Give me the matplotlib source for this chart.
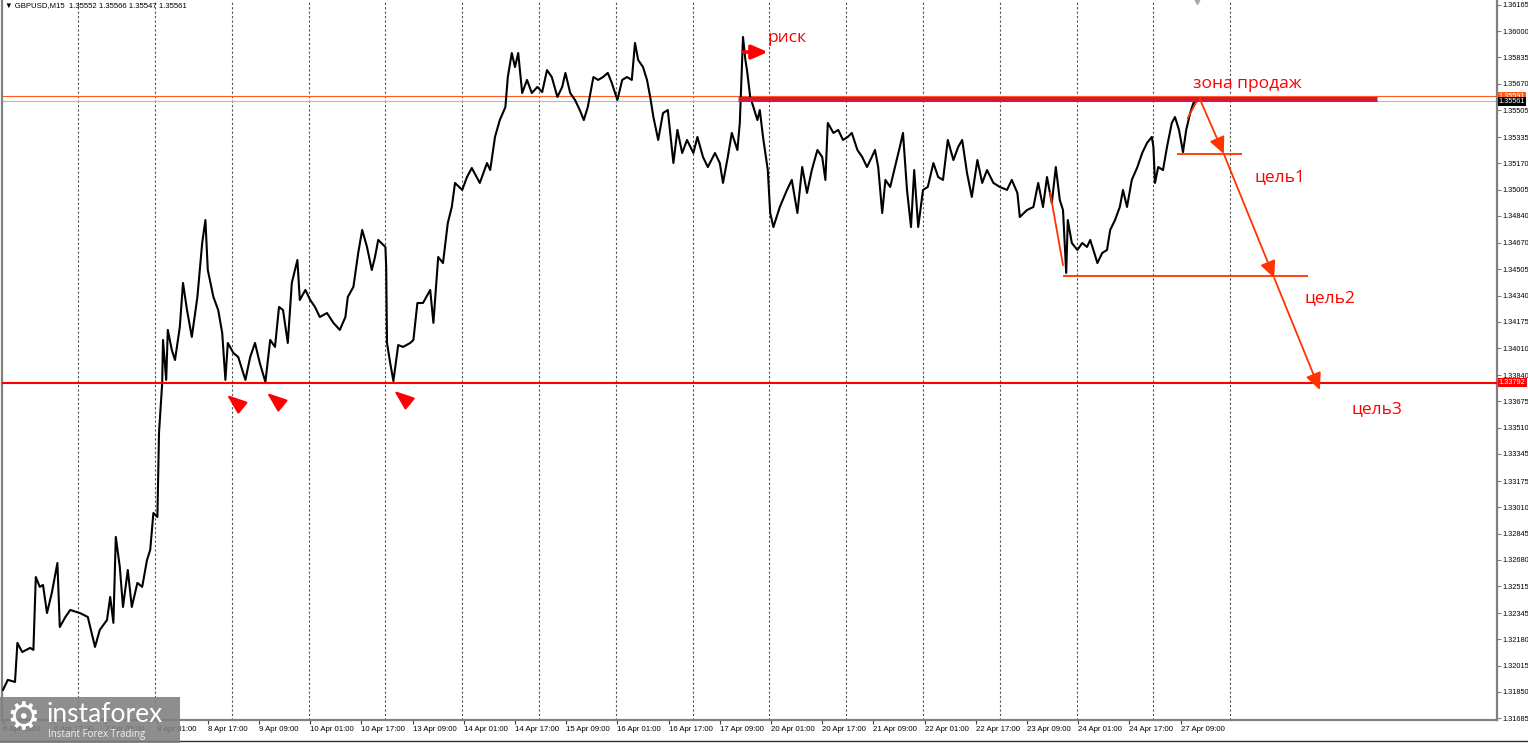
import logging

import matplotlib
matplotlib.use("Agg")
import matplotlib.pyplot as plt
from matplotlib.lines import Line2D
from matplotlib.patches import Rectangle
from matplotlib.transforms import blended_transform_factory

# Setup logging
logging.basicConfig(level=logging.INFO, format="%(asctime)s - %(levelname)s - %(message)s")

plt.rcParams["font.family"] = ["Liberation Sans", "DejaVu Sans"]

# GBPUSD M15, price (bar index from 6 Apr 2020, price)
week1_bars = [0, 6, 15, 18, 24, 34, 38, 41, 46, 50, 55, 61, 68, 71, 78, 84, 96, 106, 115, 121,
              130, 134, 138, 141, 146, 150, 156, 161, 168, 174, 180, 184, 188, 193, 195, 199, 200,
              204, 206, 211, 215, 221, 225, 230, 236, 243, 249, 253, 256, 263, 269, 274, 278, 281,
              288, 294, 303, 309, 315, 321, 328, 334, 340, 345, 350, 356, 361, 368, 371, 378, 384,
              390, 396, 405, 413, 421, 428, 431, 438, 444, 449, 455, 461, 465, 469, 478, 479]
week1_prices = [1.31863, 1.31926, 1.31913, 1.32158, 1.32101, 1.32127, 1.32114, 1.32572, 1.32510,
                1.32522, 1.32346, 1.32472, 1.32660, 1.32258, 1.32321, 1.32365, 1.32346, 1.32321,
                1.32133, 1.32240, 1.32302, 1.32447, 1.32284, 1.32824, 1.32635, 1.32384, 1.32616,
                1.32384, 1.32535, 1.32510, 1.32679, 1.32742, 1.32974, 1.32949, 1.33477, 1.33791,
                1.34061, 1.33810, 1.34124, 1.33998, 1.33935, 1.34142, 1.34419, 1.34249, 1.34080,
                1.34331, 1.34670, 1.34814, 1.34500, 1.34331, 1.34249, 1.34105, 1.33810, 1.34042,
                1.33979, 1.33954, 1.33810, 1.33954, 1.34042, 1.33916, 1.33797, 1.34061, 1.34017,
                1.34268, 1.34249, 1.34042, 1.34419, 1.34563, 1.34312, 1.34375, 1.34312, 1.34268,
                1.34205, 1.34230, 1.34168, 1.34124, 1.34205, 1.34331, 1.34394, 1.34607, 1.34752,
                1.34645, 1.34500, 1.34582, 1.34689, 1.34645, 1.34519]

week2_bars = [480, 484, 488, 494, 500, 509, 513, 518, 525, 534, 538, 544, 550, 556, 561, 565, 574,
              580, 586, 596, 605, 609, 615, 621, 628, 631, 636, 640, 644, 649, 655, 661, 668, 674,
              680, 686, 693, 699, 703, 709, 715, 721, 726, 731, 738, 744, 750, 756, 761, 768, 774,
              780, 786, 790, 794, 800, 805, 809, 813, 819, 825, 831, 838, 843, 849, 855, 863, 868,
              875, 881, 890, 896, 900, 906, 911, 918, 921, 925, 928, 930, 934, 938, 943, 946, 950,
              956]
week2_prices = [1.34042, 1.33916, 1.33803, 1.34029, 1.34017, 1.34042, 1.34061, 1.34293, 1.34293,
                1.34375, 1.34168, 1.34582, 1.34544, 1.34796, 1.34896, 1.35047, 1.35003, 1.35084,
                1.35141, 1.35047, 1.35172, 1.35128, 1.35336, 1.35442, 1.35524, 1.35712, 1.35863,
                1.35775, 1.35863, 1.35612, 1.35694, 1.35612, 1.35650, 1.35618, 1.35756, 1.35712,
                1.35587, 1.35650, 1.35738, 1.35612, 1.35568, 1.35505, 1.35442, 1.35524, 1.35712,
                1.35694, 1.35712, 1.35738, 1.35675, 1.35568, 1.35694, 1.35712, 1.35694, 1.35926,
                1.35819, 1.35775, 1.35694, 1.35587, 1.35461, 1.35317, 1.35486, 1.35505, 1.35172,
                1.35380, 1.35235, 1.35317, 1.35235, 1.35336, 1.35210, 1.35147, 1.35235, 1.35172,
                1.35047, 1.35210, 1.35361, 1.35254, 1.35424, 1.35964, 1.35819, 1.35756, 1.35587,
                1.35524, 1.35442, 1.35505, 1.35336, 1.35128]

week3_bars = [959, 963, 971, 980, 986, 993, 999, 1005, 1011, 1018, 1024, 1028, 1031, 1038, 1044,
              1050, 1056, 1061, 1068, 1074, 1080, 1086, 1090, 1094, 1099, 1103, 1109, 1115, 1121,
              1125, 1130, 1135, 1139, 1144, 1150, 1156, 1163, 1169, 1175, 1181, 1188, 1194, 1199,
              1205, 1211, 1218, 1224, 1230, 1238, 1246, 1255, 1261, 1268, 1271, 1280, 1288, 1294,
              1300, 1305, 1311, 1316, 1321, 1325, 1329, 1331, 1336, 1343, 1349, 1355, 1359, 1363,
              1368, 1374, 1380, 1384, 1390, 1396, 1400, 1405, 1411, 1418, 1424, 1430, 1436, 1438,
              1440, 1444, 1450, 1455, 1461, 1465, 1470, 1475, 1479, 1484, 1488, 1493]
week3_prices = [1.34858, 1.34770, 1.34896, 1.35003, 1.35066, 1.34858, 1.35147, 1.34984, 1.35128,
                1.35254, 1.35210, 1.35066, 1.35424, 1.35361, 1.35380, 1.35317, 1.35336, 1.35361,
                1.35254, 1.35210, 1.35147, 1.35210, 1.35254, 1.35147, 1.34858, 1.35066, 1.35022,
                1.35147, 1.35273, 1.35361, 1.35003, 1.34770, 1.35128, 1.34770, 1.35003, 1.35022,
                1.35172, 1.35084, 1.35066, 1.35317, 1.35191, 1.35273, 1.35317, 1.35110, 1.34959,
                1.35191, 1.35047, 1.35128, 1.35047, 1.35022, 1.35003, 1.35066, 1.34984, 1.34833,
                1.34877, 1.34896, 1.35047, 1.34896, 1.35084, 1.34921, 1.35147, 1.34940, 1.34877,
                1.34482, 1.34814, 1.34670, 1.34626, 1.34670, 1.34645, 1.34689, 1.34626, 1.34544,
                1.34607, 1.34626, 1.34752, 1.34814, 1.34896, 1.35003, 1.34896, 1.35066, 1.35147,
                1.35235, 1.35298, 1.35336, 1.35273, 1.35047, 1.35147, 1.35128, 1.35273, 1.35424,
                1.35461, 1.35380, 1.35241, 1.35380, 1.35486, 1.35549, 1.35561]

# axis labels
y_ticks = [1.36165, 1.36000, 1.35835, 1.35670, 1.35505, 1.35335, 1.35170, 1.35005, 1.34840,
           1.34670, 1.34505, 1.34340, 1.34175, 1.34010, 1.33840, 1.33675, 1.33510, 1.33345,
           1.33175, 1.33010, 1.32845, 1.32680, 1.32515, 1.32345, 1.32180, 1.32015, 1.31850,
           1.31685]
x_tick_bars = list(range(0, 1473, 64))
x_tick_labels = ["6 Apr 2020", "6 Apr 17:00", "7 Apr 09:00", "8 Apr 01:00", "8 Apr 17:00",
                 "9 Apr 09:00", "10 Apr 01:00", "10 Apr 17:00", "13 Apr 09:00", "14 Apr 01:00",
                 "14 Apr 17:00", "15 Apr 09:00", "16 Apr 01:00", "16 Apr 17:00", "17 Apr 09:00",
                 "20 Apr 01:00", "20 Apr 17:00", "21 Apr 09:00", "22 Apr 01:00", "22 Apr 17:00",
                 "23 Apr 09:00", "24 Apr 01:00", "24 Apr 17:00", "27 Apr 09:00"]
day_grid_bars = list(range(94, 1540, 96))

# levels drawn on the chart
support_level = 1.33792
zone_level = 1.35577
ask_level = 1.35591
bid_level = 1.35561
target1_level = 1.35231
target2_level = 1.34463
zone_span = (919, 1717)
target1_span = (1467, 1549)
target2_span = (1325, 1631)
# sell path: start, цель1, цель2, цель3
path_bars = [1496, 1526, 1589, 1646]
path_prices = [1.35574, 1.35229, 1.34450, 1.33747]
bounce_bars = [280, 330, 489]
bounce_prices = [1.33715, 1.33728, 1.33741]

RED = "#FF0000"
ORANGE_RED = "#FF3300"
CRIMSON = "#DC143C"
TEXT_FONT = ["Open Sans", "DejaVu Sans"]


def draw_price(ax):
    """Draw the close line and the day separators."""
    for b in day_grid_bars:
        ax.axvline(b, color="#505050", lw=0.8, ls=(0, (2, 2)), zorder=0)
    bars = week1_bars + week2_bars + week3_bars
    prices = week1_prices + week2_prices + week3_prices
    ax.plot(bars, prices, color="black", lw=1.5, zorder=3)


def draw_markup(ax):
    """Support, sell zone, targets and arrows."""
    ax.axhline(ask_level, color="#FF5A1F", lw=0.8, zorder=2)
    ax.axhline(bid_level, color="#B8B8B8", lw=0.8, zorder=2)
    ax.axhline(support_level, color=RED, lw=1.5, zorder=4)
    ax.hlines(zone_level, *zone_span, color=CRIMSON, lw=3.6, zorder=5)
    ax.hlines(target1_level, *target1_span, color=ORANGE_RED, lw=1.3, zorder=4)
    ax.hlines(target2_level, *target2_span, color=ORANGE_RED, lw=1.3, zorder=4)
    ax.plot([1309, 1325], [1.34984, 1.34532], color=ORANGE_RED, lw=1.3, zorder=4)
    ax.plot([1481, 1493], [1.35455, 1.35568], color=ORANGE_RED, lw=1.3, zorder=4)

    for i in range(len(path_bars) - 1):
        ax.annotate("", xy=(path_bars[i + 1], path_prices[i + 1]),
                    xytext=(path_bars[i], path_prices[i]),
                    arrowprops=dict(arrowstyle="-|>,head_length=0.6,head_width=0.28",
                                    color=ORANGE_RED, lw=1.3, mutation_scale=17,
                                    shrinkA=0, shrinkB=0), zorder=6)

    # risk arrow
    ax.annotate("", xy=(956, 1.35869), xytext=(925, 1.35869),
                arrowprops=dict(arrowstyle="-|>,head_length=0.8,head_width=0.35",
                                color=RED, lw=2.6, mutation_scale=12, shrinkA=0, shrinkB=0),
                zorder=6)

    for b, p in zip(bounce_bars, bounce_prices):
        ax.annotate("", xy=(b, p), xytext=(11, -9), textcoords="offset points",
                    arrowprops=dict(arrowstyle="-|>,head_length=1.0,head_width=0.38",
                                    color=RED, lw=1.6, mutation_scale=12,
                                    shrinkA=0, shrinkB=0), zorder=6)

    labels = [(956, 1.35957, "риск"), (1487, 1.35669, "зона продаж"),
              (1565, 1.35084, "цель1"), (1627, 1.34325, "цель2"), (1686, 1.33627, "цель3")]
    for b, p, s in labels:
        ax.text(b, p, s, color=RED, fontsize=12.5, family=TEXT_FONT, va="center", ha="left",
                zorder=7)


def draw_axes(ax):
    """MT4 style axes: prices on the right, times at the bottom."""
    ax.set_xlim(-1.25, 1867.5)
    ax.set_ylim(1.31674, 1.36196)
    ax.yaxis.tick_right()
    ax.set_yticks(y_ticks)
    ax.set_yticklabels([f"{v:.5f}" for v in y_ticks])
    ax.set_xticks(x_tick_bars)
    ax.set_xticklabels(x_tick_labels, ha="left")
    ax.tick_params(axis="y", direction="out", length=3, width=0.8, color="#808080",
                   labelsize=5.3, pad=1.2)
    ax.tick_params(axis="x", direction="out", length=3, width=0.8, color="#404040",
                   labelsize=5.6, pad=1)
    ax.spines["top"].set_visible(False)
    for side in ("left", "bottom", "right"):
        ax.spines[side].set_color("#808080")
        ax.spines[side].set_linewidth(1.6)

    trans = blended_transform_factory(ax.transAxes, ax.transData)
    for level, fc in ((ask_level, "#FF5A1F"), (bid_level, "black"), (support_level, RED)):
        ax.text(1.0012, level, f"{level:.5f}", transform=trans, fontsize=5.3, color="white",
                va="center", ha="left", clip_on=False, zorder=8,
                bbox=dict(boxstyle="square,pad=0.15", fc=fc, ec="none"))
    ax.plot([1493], [1.36190], marker="v", color="#A8A8A8", ms=5, clip_on=False, zorder=8)


def draw_frame(fig):
    """Window title and the broker watermark."""
    fig.text(5 / 1528, 1 - 6 / 743, "\u25bc GBPUSD,M15  1.35552 1.35566 1.35547 1.35561",
             fontsize=5.6, va="center", ha="left")
    fig.add_artist(Line2D([0, 1], [2 / 743, 2 / 743], transform=fig.transFigure,
                          color="#303030", lw=1))
    fig.add_artist(Rectangle((0, 0), 180 / 1528, 46 / 743, transform=fig.transFigure,
                             fc="#7F7F7F", ec="none", alpha=0.88, zorder=10))
    fig.text(23 / 1528, 1 - 719 / 743, "\u2699", fontsize=27, color="white", ha="center",
             va="center", family="DejaVu Sans", zorder=11)
    fig.text(46 / 1528, 1 - 715 / 743, "instaforex", fontsize=19, color="white", ha="left",
             va="center", family=["Lato", "DejaVu Sans"], zorder=11)
    fig.text(48 / 1528, 1 - 734 / 743, "Instant Forex Trading", fontsize=7, color="#F0F0F0",
             ha="left", va="center", family=["Open Sans", "DejaVu Sans"], zorder=11)


def main():
    fig = plt.figure(figsize=(15.28, 7.43), dpi=100)
    ax = fig.add_axes([2 / 1528, 23 / 743, 1495 / 1528, 720 / 743])
    draw_price(ax)
    draw_markup(ax)
    draw_axes(ax)
    draw_frame(fig)
    fig.savefig("out.png", dpi=100, facecolor="white")
    plt.close(fig)
    logging.info("Chart saved at out.png.")


if __name__ == "__main__":
    main()
